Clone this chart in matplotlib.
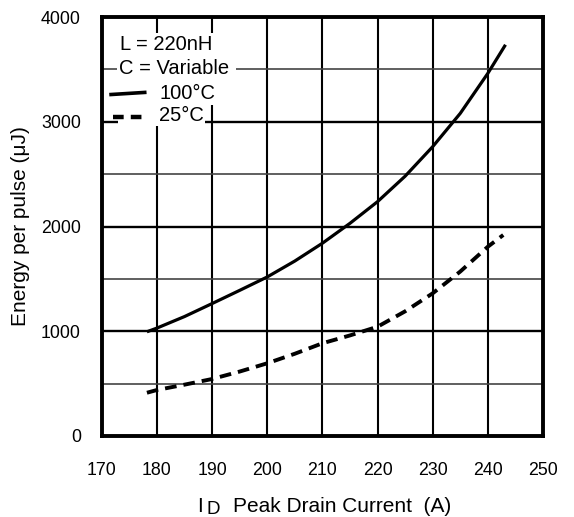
import matplotlib
matplotlib.use("Agg")
import matplotlib.pyplot as plt
from matplotlib.patches import Rectangle

plt.rcParams['font.family'] = ['Liberation Sans', 'DejaVu Sans']

current = [178.2, 180, 185, 190, 195, 200, 205, 210, 215, 220, 225, 230, 235, 240, 243.2]
energy_100 = [995, 1030, 1140, 1264, 1390, 1518, 1670, 1840, 2030, 2237, 2480, 2762, 3080, 3462, 3735]
current_25 = [178.2, 180, 185, 190, 195, 200, 205, 210, 215, 220, 225, 230, 235, 240, 242.8]
energy_25 = [413, 439, 490, 544, 615, 694, 785, 885, 960, 1043, 1190, 1362, 1570, 1807, 1919]

xticks = [170, 180, 190, 200, 210, 220, 230, 240, 250]
yticks = [0, 1000, 2000, 3000, 4000]
yminor = [500, 1500, 2500, 3500]
legend_lines = ['L = 220nH', 'C = Variable', '100°C', '25°C']

W, H = 574, 517
fig = plt.figure(figsize=(W / 100, H / 100), dpi=100)
ax = fig.add_axes([101.7 / W, (H - 436) / H, (543 - 101.7) / W, (436 - 17) / H])
ax.set_xlim(170, 250)
ax.set_ylim(0, 4000)

for x in xticks[1:-1]:
    ax.axvline(x, color='black', lw=1.5, zorder=1)
for y in yticks[1:-1]:
    ax.axhline(y, color='black', lw=1.7, zorder=1)
for y in yminor:
    ax.axhline(y, color='#444444', lw=1.2, zorder=1)

ax.plot(current, energy_100, color='black', lw=2.3, solid_capstyle='butt', zorder=3)
ax.plot(current_25, energy_25, color='black', lw=2.8, dashes=(3.0, 1.8), zorder=3)

ax.set_xticks(xticks)
ax.set_yticks(yticks)
ax.tick_params(length=0, labelsize=12.8)
ax.tick_params(axis='x', pad=18.5)
ax.tick_params(axis='y', pad=15)
for s in ax.spines.values():
    s.set_linewidth(2.8)
    s.set_zorder(5)

ax.set_ylabel('Energy per pulse (μJ)', fontsize=15, labelpad=8)

# x label: I, subscript D, rest
fig.text(197 / W, (H - 512) / H, 'I', fontsize=15, ha='left', va='baseline')
fig.text(206 / W, (H - 514.5) / H, 'D', fontsize=13.5, ha='left', va='baseline')
fig.text(233 / W, (H - 512) / H, 'Peak Drain Current  (A)', fontsize=15, ha='left', va='baseline')

# legend white rows (data coords)
rows = [(172.95, 3618, 18.1, 229), (172.77, 3389, 21.5, 229), (171.1, 3160, 20.3, 229),
        (172.95, 2960, 15.8, 200)]
for x0, y0, w, h in rows:
    ax.add_patch(Rectangle((x0, y0), w, h, facecolor='white', edgecolor='none', zorder=2))
ax.add_patch(Rectangle((171.4, 3030), 2.0, 130, facecolor='white', edgecolor='none', zorder=2))

ax.text(173.3, 3733, legend_lines[0], fontsize=14.5, va='center', ha='left', zorder=4)
ax.text(173.1, 3504, legend_lines[1], fontsize=14.5, va='center', ha='left', zorder=4)
ax.text(180.4, 3274, legend_lines[2], fontsize=14.5, va='center', ha='left', zorder=4)
ax.text(180.4, 3055, legend_lines[3], fontsize=14.5, va='center', ha='left', zorder=4)
ax.plot([171.7, 177.8], [3260, 3280], color='black', lw=2.6, zorder=4)
ax.plot([172.0, 177.3], [3050, 3050], color='black', lw=3.2, dashes=(2.4, 1.6), zorder=4)

fig.savefig('out.png', dpi=100)
